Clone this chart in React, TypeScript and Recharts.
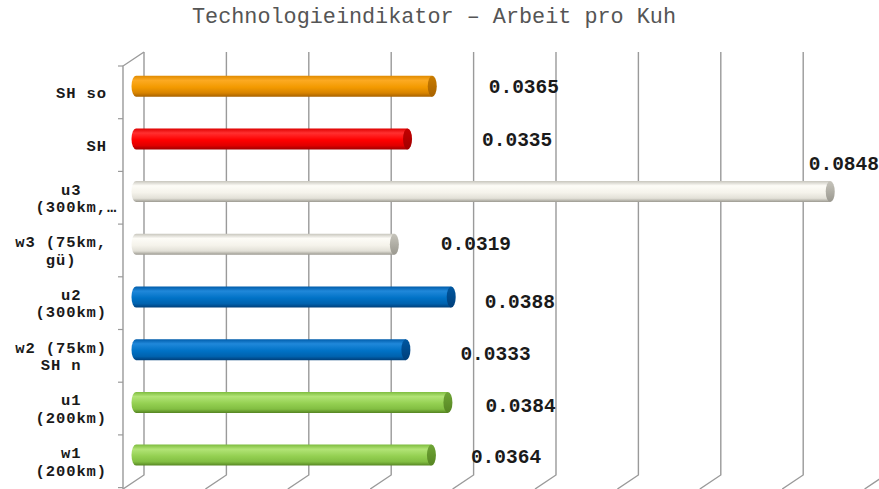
import React from 'react';
import { BarChart, Bar, XAxis, YAxis, CartesianGrid, LabelList, Cell } from 'recharts';

const titleText = 'Technologieindikator – Arbeit pro Kuh';
const categories = [
  'SH so',
  'SH',
  'u3\n(300km,…',
  'w3 (75km,\ngü)',
  'u2\n(300km)',
  'w2 (75km)\nSH n',
  'u1\n(200km)',
  'w1\n(200km)',
];
const values = [0.0365, 0.0335, 0.0848, 0.0319, 0.0388, 0.0333, 0.0384, 0.0364];
const valueLabels = ['0.0365', '0.0335', '0.0848', '0.0319', '0.0388', '0.0333', '0.0384', '0.0364'];
const xTicks = [0, 0.01, 0.02, 0.03, 0.04, 0.05, 0.06, 0.07, 0.08, 0.09];

const data = categories.map((name, i) => ({ name, value: values[i], label: valueLabels[i] }));

// styles
const PALETTE = {
  orange: { top: '#E08A00', hi: '#FCAA22', base: '#F39A00', low: '#D88400', bottom: '#A86200', cap: '#C97C00' },
  red: { top: '#DD0000', hi: '#FF3030', base: '#FF0000', low: '#E00000', bottom: '#A00000', cap: '#C40000' },
  white: { top: '#C9C7BE', hi: '#FDFCF7', base: '#F5F3EB', low: '#E2E0D7', bottom: '#9A988F', cap: '#C6C4BB' },
  blue: { top: '#005CAA', hi: '#2088DA', base: '#0072C6', low: '#0062AE', bottom: '#003F7A', cap: '#0057A0' },
  green: { top: '#7EBC3E', hi: '#B2E476', base: '#94D052', low: '#82BE42', bottom: '#568522', cap: '#6FA536' },
};
const BAR_STYLE = ['orange', 'red', 'white', 'white', 'blue', 'blue', 'green', 'green'];
const LABEL_SHIFT = [
  { dx: 52, dy: 0 },
  { dx: 70, dy: 0 },
  { dx: -26, dy: -28 },
  { dx: 42, dy: -1 },
  { dx: 29, dy: 4 },
  { dx: 50, dy: 4 },
  { dx: 33, dy: 3 },
  { dx: 35, dy: 1 },
];

const MONO = '"Liberation Mono", "DejaVu Sans Mono", monospace';
const GRID = '#9a9a9a';
const BAND = 52.7;
const DEPTH_X_BACK = 8;
const DEPTH_X_FRONT = -13;
const LBL_FS = 15.5;
const LBL_LS = 0.9;
const LBL_CW = LBL_FS * 0.6 + LBL_LS;
const LBL_LH = 17.5;

const CylinderBar = (props: any) => {
  const { x, y, width, height, index } = props;
  if (width == null || width <= 0) return null;
  const key = BAR_STYLE[index];
  const rx = 4.5;
  const ry = height / 2;
  const xe = x + width - rx;
  const d = `M ${x} ${y} L ${xe} ${y} L ${xe} ${y + height} L ${x} ${y + height} A ${rx} ${ry} 0 0 1 ${x} ${y} Z`;
  return (
    <g>
      <path d={d} fill={`url(#grad-${key})`} />
      <ellipse cx={xe} cy={y + ry} rx={rx} ry={ry} fill={`url(#cap-${key})`} />
    </g>
  );
};

const GridLine = (props: any) => {
  const { x1, y1, y2, index } = props;
  const bx = x1 + DEPTH_X_BACK;
  const fx = x1 + DEPTH_X_FRONT;
  const topBack = y1 - 7.7;
  const botBack = y2 - 6.3;
  const botFront = y2 + 7.7;
  return (
    <g key={`g-${index}-${x1}`}>
      <polyline
        points={`${bx},${topBack} ${bx},${botBack} ${fx},${botFront}`}
        fill="none"
        stroke={GRID}
        strokeWidth={1.4}
      />
      {index === 0 ? (
        <polyline
          points={`${bx},${topBack} ${fx},${topBack + 14} ${fx},${botFront + 2}`}
          fill="none"
          stroke={GRID}
          strokeWidth={1.4}
        />
      ) : null}
    </g>
  );
};

const CategoryTick = (props: any) => {
  const { y, payload, index } = props;
  const lines: string[] = String(payload.value).split('\n');
  const widthOf = (s: string) => s.replace('…', '').length * LBL_CW;
  const blockW = Math.max(...lines.map(widthOf));
  const right = 107;
  const center = right - blockW / 2;
  const frontY = y + 6.3;
  const startY = frontY - ((lines.length - 1) * LBL_LH) / 2;
  const markY = y + 6.3 - BAND / 2;
  return (
    <g>
      <line x1={118} x2={123} y1={markY} y2={markY} stroke={GRID} strokeWidth={1.2} />
      {index === categories.length - 1 ? (
        <line x1={118} x2={123} y1={markY + BAND} y2={markY + BAND} stroke={GRID} strokeWidth={1.2} />
      ) : null}
      {lines.map((ln, i) => (
        <text
          key={i}
          x={center - widthOf(ln) / 2}
          y={startY + i * LBL_LH + LBL_FS * 0.36}
          textAnchor="start"
          fontFamily={MONO}
          fontWeight="bold"
          fontSize={LBL_FS}
          letterSpacing={LBL_LS}
          fill="#1a1a1a"
        >
          {ln}
        </text>
      ))}
    </g>
  );
};

const ValueLabel = (props: any) => {
  const { x, y, width, height, index } = props;
  const s = LABEL_SHIFT[index];
  const fs = 19.5;
  return (
    <text
      x={x + width + s.dx}
      y={y + height / 2 + s.dy + fs * 0.34}
      fontFamily={MONO}
      fontWeight="bold"
      fontSize={fs}
      fill="#1a1a1a"
      textAnchor="start"
    >
      {valueLabels[index]}
    </text>
  );
};

export default function App() {
  return (
    <div style={{ position: 'absolute', left: 0, top: 0, width: 879, height: 489, background: '#ffffff', overflow: 'hidden' }}>
      <div
        style={{
          position: 'absolute',
          left: 0,
          top: 6,
          width: 868,
          textAlign: 'center',
          fontFamily: MONO,
          fontSize: 21.8,
          lineHeight: '24px',
          color: '#555555',
          whiteSpace: 'pre',
        }}
      >
        {titleText}
      </div>
      <BarChart
        width={879}
        height={489}
        data={data}
        layout="vertical"
        margin={{ top: 59.7, right: 1.4, bottom: 7.7, left: 0 }}
        barSize={21}
        style={{ position: 'absolute', left: 0, top: 0 }}
      >
        <defs>
          {Object.entries(PALETTE).map(([k, c]) => (
            <React.Fragment key={k}>
              <linearGradient id={`grad-${k}`} x1="0" y1="0" x2="0" y2="1">
                <stop offset="0" stopColor={c.top} />
                <stop offset="0.22" stopColor={c.hi} />
                <stop offset="0.55" stopColor={c.base} />
                <stop offset="0.82" stopColor={c.low} />
                <stop offset="1" stopColor={c.bottom} />
              </linearGradient>
              <linearGradient id={`cap-${k}`} x1="0" y1="0" x2="0" y2="1">
                <stop offset="0" stopColor={c.cap} />
                <stop offset="1" stopColor={c.bottom} />
              </linearGradient>
            </React.Fragment>
          ))}
        </defs>
        <CartesianGrid horizontal={false} vertical={GridLine as any} />
        <XAxis type="number" domain={[0, 0.09]} ticks={xTicks} hide />
        <YAxis
          type="category"
          dataKey="name"
          width={136}
          axisLine={false}
          tickLine={false}
          interval={0}
          tick={<CategoryTick />}
        />
        <Bar dataKey="value" isAnimationActive={false} shape={<CylinderBar />}>
          {data.map((d, i) => (
            <Cell key={i} fill={`url(#grad-${BAR_STYLE[i]})`} />
          ))}
          <LabelList dataKey="label" content={<ValueLabel />} />
        </Bar>
      </BarChart>
    </div>
  );
}
